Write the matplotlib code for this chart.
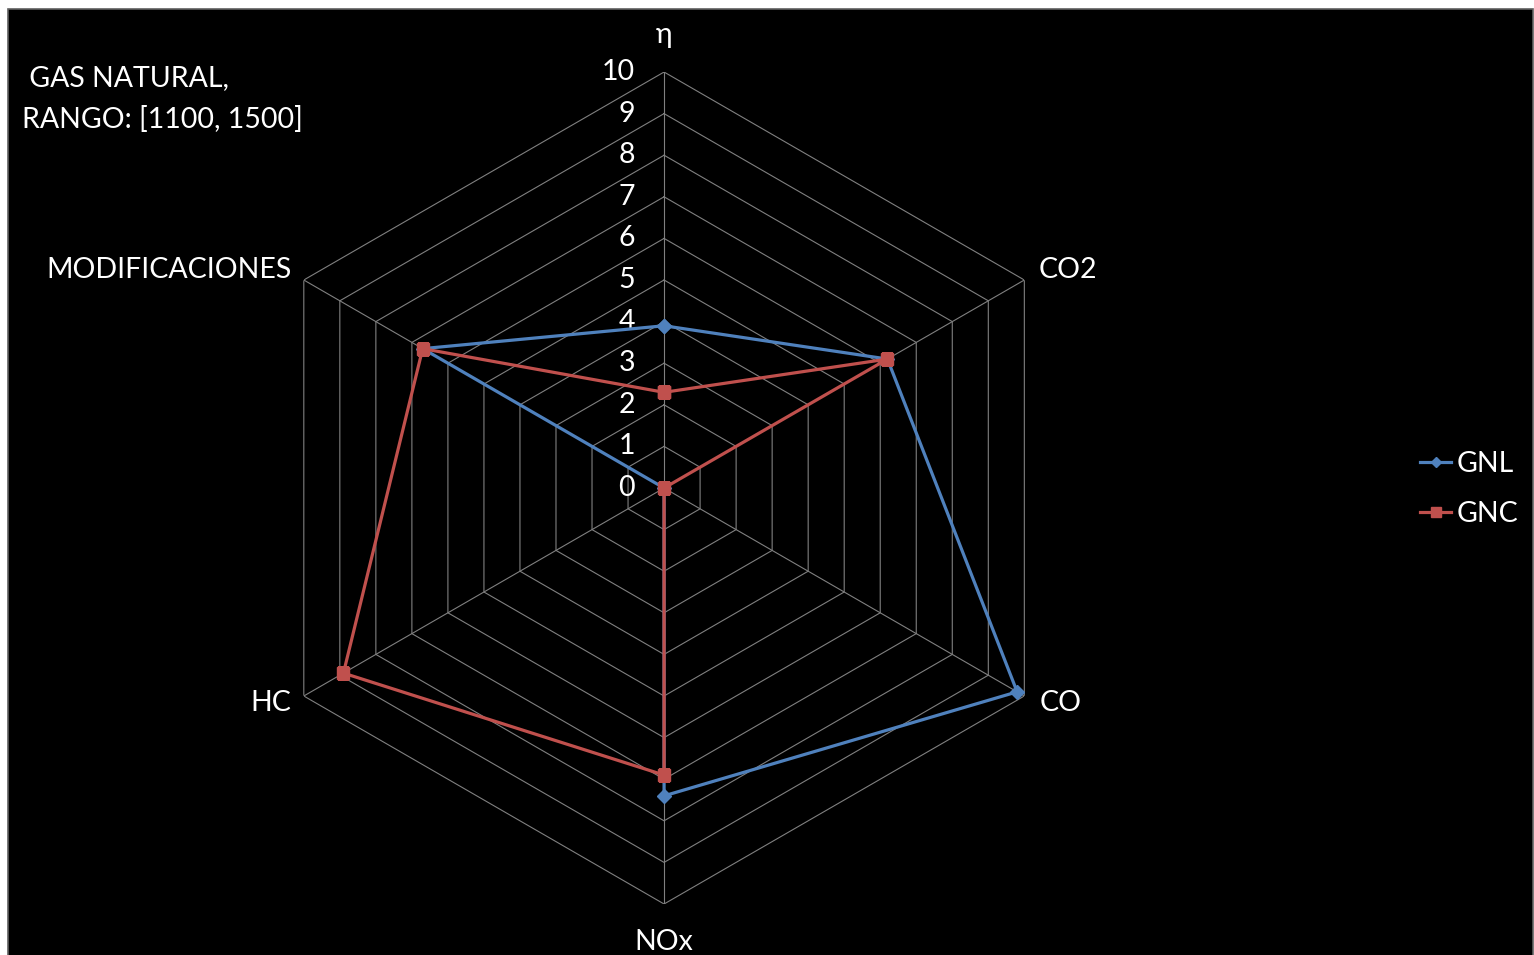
import numpy as np
import matplotlib.pyplot as plt
from matplotlib.patches import Rectangle

# datos
categorias = ['η', 'CO2', 'CO', 'NOx', 'HC', 'MODIFICACIONES']
gnl = [3.9, 6.2, 9.8, 7.4, 0.0, 6.7]
gnc = [2.3, 6.2, 0.0, 6.9, 8.9, 6.7]
niveles = list(range(0, 11))

plt.rcParams['font.family'] = ['Lato', 'DejaVu Sans']
fs = 20.5

W, H = 1534, 955
fig = plt.figure(figsize=(W / 100, H / 100), dpi=100, facecolor='white')
# fondo negro con margen blanco arriba/izquierda
fig.add_artist(Rectangle((8 / W, -0.01), 1 - 9 / W, 1.01 - 9 / H, transform=fig.transFigure,
                         facecolor='black', edgecolor='#606060', lw=1.2, zorder=0))

ax = fig.add_axes([0.1617, 0.0534, 0.5424, 0.8712], projection='polar')
ax.set_facecolor('none')
ax.set_theta_offset(np.pi / 2)
ax.set_theta_direction(-1)
ax.set_ylim(0, 10)
ax.grid(False)
ax.spines['polar'].set_visible(False)
ax.set_xticks([])
ax.set_yticks([])

ang = np.arange(len(categorias)) * 2 * np.pi / len(categorias)
cerrado = np.append(ang, ang[0])

# rejilla hexagonal
for lv in niveles[1:]:
    ax.plot(cerrado, [lv] * len(cerrado), color='#808080', lw=0.8, zorder=1)
for a in ang:
    ax.plot([a, a], [0, niveles[-1]], color='#808080', lw=0.8, zorder=1)

# etiquetas del eje radial
for lv in niveles:
    ax.annotate(str(lv), xy=(0, lv), xytext=(-21, 0), textcoords='offset points',
                ha='right', va='center', color='white', fontsize=fs)

# etiquetas de categorias
offs = [(0, 27, 'center', 'center'), (10, 7, 'left', 'center'), (11, -5, 'left', 'center'),
        (0, -27, 'center', 'center'), (-9, -5, 'right', 'center'), (-9, 7, 'right', 'center')]
for a, lab, (dx, dy, ha, va) in zip(ang, categorias, offs):
    ax.annotate(lab, xy=(a, niveles[-1]), xytext=(dx, dy), textcoords='offset points',
                ha=ha, va=va, color='white', fontsize=fs)

ax.plot(cerrado, gnl + gnl[:1], color='#4F81BD', lw=2.3, marker='D', ms=7,
        label='GNL', zorder=3)
ax.plot(cerrado, gnc + gnc[:1], color='#C0504D', lw=2.3, marker='s', ms=9,
        label='GNC', zorder=4)

leg = fig.legend(loc='center left', bbox_to_anchor=(1420 / W, 1 - 489 / H), frameon=False,
                 labelcolor='white', fontsize=fs, handlelength=1.1, handletextpad=0.2,
                 labelspacing=0.85, markerscale=0.8, borderpad=0, borderaxespad=0)

fig.text(22 / W, 1 - 78 / H, ' GAS NATURAL,', color='white', fontsize=fs, va='center')
fig.text(22 / W, 1 - 120 / H, 'RANGO: [1100, 1500]', color='white', fontsize=fs, va='center')

fig.savefig('out.png', dpi=100, facecolor=fig.get_facecolor())
